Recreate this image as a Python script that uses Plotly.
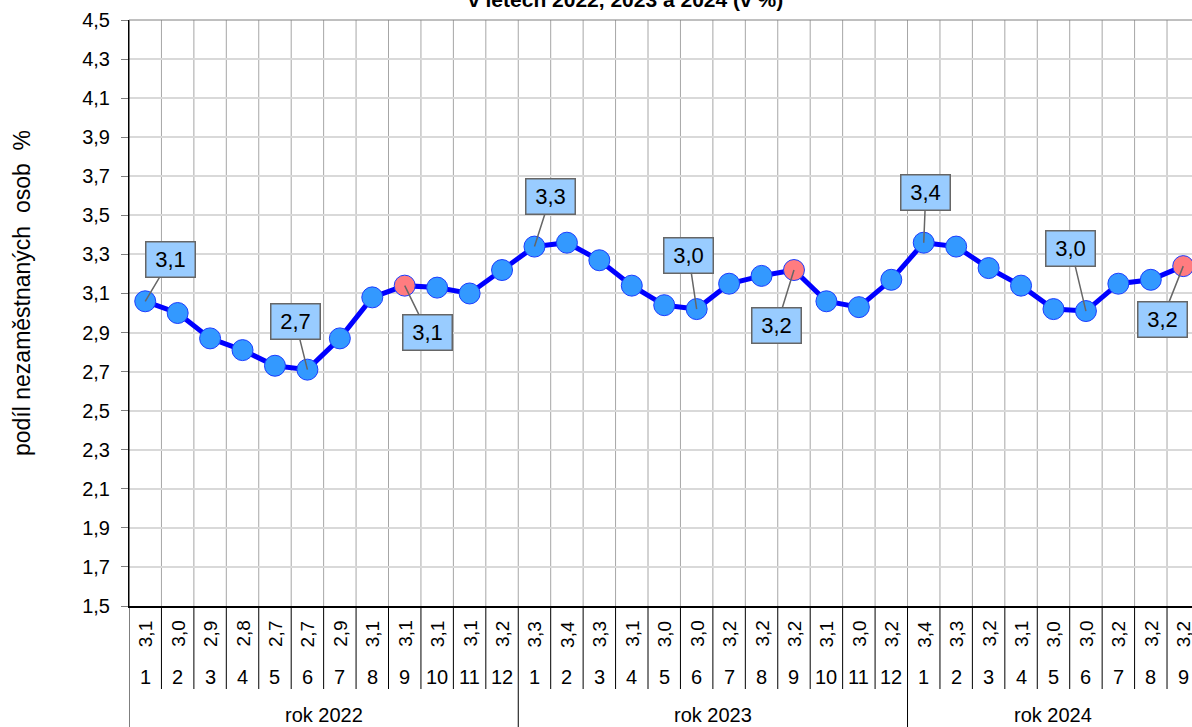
import plotly.graph_objects as go

# ---------------- data ----------------
month_labels = ["1", "2", "3", "4", "5", "6", "7", "8", "9", "10", "11", "12",
                "1", "2", "3", "4", "5", "6", "7", "8", "9", "10", "11", "12",
                "1", "2", "3", "4", "5", "6", "7", "8", "9"]
year_labels = ["rok 2022", "rok 2023", "rok 2024"]
year_month_counts = [12, 12, 9]
values = [3.06, 3.00, 2.87, 2.81, 2.73, 2.71, 2.87, 3.08, 3.14, 3.13, 3.10, 3.22,
          3.34, 3.36, 3.27, 3.14, 3.04, 3.02, 3.15, 3.19, 3.22, 3.06, 3.03, 3.17,
          3.36, 3.34, 3.23, 3.14, 3.02, 3.01, 3.15, 3.17, 3.24]
value_labels = ["3,1", "3,0", "2,9", "2,8", "2,7", "2,7", "2,9", "3,1", "3,1", "3,1", "3,1", "3,2",
                "3,3", "3,4", "3,3", "3,1", "3,0", "3,0", "3,2", "3,2", "3,2", "3,1", "3,0", "3,2",
                "3,4", "3,3", "3,2", "3,1", "3,0", "3,0", "3,2", "3,2", "3,2"]
highlight_idx = [8, 20, 32]           # September points
callout_idx = [0, 5, 8, 12, 17, 20, 24, 29, 32]
y_ticks = [1.5, 1.7, 1.9, 2.1, 2.3, 2.5, 2.7, 2.9, 3.1, 3.3, 3.5, 3.7, 3.9, 4.1, 4.3, 4.5]
y_title = "podíl nezaměstnaných\u00a0\u00a0osob\u00a0\u00a0%"
title_text = "v letech 2022, 2023 a 2024 (v %)"

# ---------------- styling / layout helpers ----------------
W, H = 1192, 727
ML, MR, MT, MB = 129, 0, 20, 121
plot_h = H - MT - MB
def py(pix):  # pixel row -> paper y
    return (H - MB - pix) / plot_h

callout_offsets = {0: (25, -42), 5: (-12, -48), 8: (23, 47), 12: (16, -50),
                   17: (-8, -54), 20: (-17, 55), 24: (2, -50), 29: (-15, -63), 32: (-21, 53)}

n = len(values)
x = list(range(n))
FONT = "Liberation Sans, Arial, sans-serif"

marker_colors = ["#ff7c80" if i in highlight_idx else "#3399ff" for i in x]

fig = go.Figure()
fig.add_trace(go.Scatter(
    x=x, y=values, mode="lines+markers",
    line=dict(color="#0000ff", width=5),
    marker=dict(size=21, color=marker_colors, line=dict(color="#1a3cff", width=1)),
    hoverinfo="skip", showlegend=False,
))

shapes = []
year_bounds = []
acc = 0
for c in year_month_counts[:-1]:
    acc += c
    year_bounds.append(acc - 0.5)
bottom_edge = py(H)
for k in range(n - 1):
    xb = k + 0.5
    shapes.append(dict(type="line", xref="x", yref="paper", x0=xb, x1=xb, y0=0, y1=1,
                       line=dict(color="#a6a6a6", width=1), layer="below"))
    y_bottom = bottom_edge if xb in year_bounds else py(689)
    shapes.append(dict(type="line", xref="x", yref="paper", x0=xb, x1=xb, y0=y_bottom, y1=0,
                       line=dict(color="#000000", width=1)))
shapes.append(dict(type="line", xref="x", yref="paper", x0=-0.5, x1=-0.5, y0=bottom_edge, y1=1,
                   line=dict(color="#000000", width=1)))
shapes.append(dict(type="line", xref="paper", yref="paper", x0=0, x1=1, y0=1, y1=1,
                   line=dict(color="#808080", width=1)))

annotations = []
for i in x:
    annotations.append(dict(x=i, y=py(634), xref="x", yref="paper", text=value_labels[i],
                            xanchor="center", yanchor="middle",
                            showarrow=False, textangle=-90, font=dict(size=19, color="black", family=FONT)))
    annotations.append(dict(x=i, y=py(677), xref="x", yref="paper", text=month_labels[i],
                            xanchor="center", yanchor="middle",
                            showarrow=False, font=dict(size=20, color="black", family=FONT)))
start = 0
for lbl, c in zip(year_labels, year_month_counts):
    annotations.append(dict(x=start + (c - 1) / 2, y=py(715), xref="x", yref="paper", text=lbl,
                            xanchor="center", yanchor="middle",
                            showarrow=False, font=dict(size=20, color="black", family=FONT)))
    start += c

for i in callout_idx:
    ax, ay = callout_offsets[i]
    annotations.append(dict(
        x=i, y=values[i], xref="x", yref="y", text=value_labels[i],
        showarrow=True, arrowhead=0, arrowwidth=1.5, arrowcolor="#666666",
        ax=ax, ay=ay, axref="pixel", ayref="pixel",
        bgcolor="#99ccff", bordercolor="#666666", borderwidth=1.5, borderpad=2,
        width=44, height=30, font=dict(size=22, color="black", family=FONT),
    ))

annotations.append(dict(x=0, y=py(293), xref="paper", yref="paper", xshift=-107,
                        xanchor="center", yanchor="middle",
                        text=y_title, textangle=-90, showarrow=False,
                        font=dict(size=23, color="black", family=FONT)))
annotations.append(dict(x=(625 - ML) / (W - ML - MR), y=1, xref="paper", yref="paper", yshift=21,
                        xanchor="center", yanchor="middle",
                        text="<b>" + title_text + "</b>", showarrow=False,
                        font=dict(size=21, color="black", family=FONT)))

fig.update_layout(
    width=W, height=H,
    margin=dict(l=ML, r=MR, t=MT, b=MB, pad=0),
    paper_bgcolor="white", plot_bgcolor="white",
    separators=", ",
    font=dict(family=FONT, color="black"),
    shapes=shapes, annotations=annotations,
    xaxis=dict(range=[-0.5, 32.27], showticklabels=False, showgrid=False, zeroline=False,
               showline=True, linecolor="#000000", linewidth=1.5, ticks=""),
    yaxis=dict(range=[1.5, 4.5], tickvals=y_ticks, tickformat=".1f", showgrid=True,
               gridcolor="#d9d9d9", gridwidth=1.5, zeroline=False,
               showline=True, linecolor="#000000", linewidth=1,
               ticks="outside", ticklen=7, tickcolor="#808080", ticklabelstandoff=7,
               tickfont=dict(size=20, color="black", family=FONT)),
)

fig.write_html(
    "out.html",
    config={"displayModeBar": False},
    post_script="document.body.style.margin='0';document.body.style.overflow='hidden';",
)
